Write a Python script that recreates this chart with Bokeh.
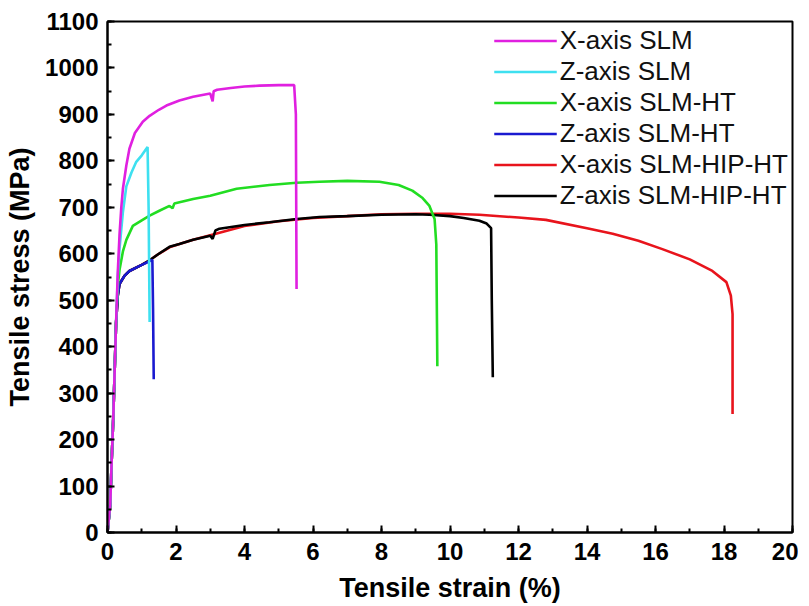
from bokeh.plotting import figure
from bokeh.models import Legend, LegendItem, SingleIntervalTicker
from bokeh.embed import file_html
from bokeh.resources import INLINE

# ---- data (strain %, stress MPa) ----
x_slm_strain = [0, 0.08, 0.12, 0.17, 0.21, 0.25, 0.3, 0.35, 0.4, 0.45, 0.55, 0.64, 0.8,
                1.03, 1.23, 1.5, 1.72, 2.1, 2.5, 3.0, 3.07, 3.1, 3.2, 3.6, 4.0, 4.44,
                5.0, 5.45, 5.5, 5.52]
x_slm_stress = [0, 60, 150, 250, 350, 450, 560, 640, 697, 740, 790, 826, 860,
                884, 897, 910, 919, 930, 938, 945, 928, 950, 953, 957, 960, 962,
                963, 963, 900, 524]

z_slm_strain = [0, 0.08, 0.12, 0.17, 0.21, 0.25, 0.3, 0.35, 0.45, 0.55, 0.7, 0.84, 1.0,
                1.17, 1.2, 1.23]
z_slm_stress = [0, 60, 150, 250, 350, 450, 550, 610, 690, 745, 775, 798, 812,
                830, 700, 453]

x_ht_strain = [0, 0.08, 0.12, 0.17, 0.21, 0.25, 0.3, 0.35, 0.45, 0.55, 0.74, 1.0, 1.23,
               1.5, 1.81, 1.9, 1.95, 2.5, 3.0, 3.77, 4.73, 5.52, 6.19, 7.0, 7.94, 8.5,
               8.9, 9.2, 9.4, 9.55, 9.6, 9.62, 9.63]
x_ht_stress = [0, 60, 150, 250, 350, 450, 530, 565, 605, 630, 660, 672, 682,
               692, 703, 698, 708, 718, 725, 740, 748, 753, 755, 757, 755, 748,
               736, 720, 703, 675, 620, 450, 358]

z_ht_strain = [0, 0.08, 0.12, 0.17, 0.21, 0.25, 0.3, 0.35, 0.5, 0.64, 1.0, 1.23, 1.31,
               1.33, 1.35]
z_ht_stress = [0, 60, 150, 250, 350, 450, 510, 535, 553, 563, 576, 584, 587,
               480, 330]

x_hip_strain = [0, 0.08, 0.12, 0.17, 0.21, 0.25, 0.3, 0.35, 0.5, 0.64, 1.0, 1.23, 1.5,
                1.81, 2.1, 2.5, 3.0, 4.0, 5.0, 6.0, 7.0, 8.0, 9.0, 10.0, 10.86, 12.0,
                12.8, 14.0, 14.75, 15.5, 16.2, 17.0, 17.66, 18.07, 18.2, 18.25, 18.25]
x_hip_stress = [0, 60, 150, 250, 350, 450, 510, 535, 553, 563, 576, 586, 600,
                614, 621, 630, 640, 660, 670, 677, 681, 685, 686, 686, 684, 678,
                673, 655, 643, 628, 610, 588, 563, 539, 510, 470, 255]

z_hip_strain = [0, 0.08, 0.12, 0.17, 0.21, 0.25, 0.3, 0.35, 0.5, 0.64, 1.0, 1.23, 1.5,
                1.81, 2.1, 2.5, 3.0, 3.07, 3.15, 3.27, 4.0, 4.73, 5.52, 6.19, 7.0,
                8.0, 9.0, 9.4, 10.0, 10.4, 10.86, 11.07, 11.2, 11.22, 11.25]
z_hip_stress = [0, 60, 150, 250, 350, 450, 510, 535, 553, 563, 576, 586, 600,
                615, 621, 630, 639, 632, 650, 654, 662, 668, 675, 679, 681,
                684, 685, 684, 681, 677, 671, 665, 655, 500, 334]

labels = ["X-axis SLM", "Z-axis SLM", "X-axis SLM-HT", "Z-axis SLM-HT",
          "X-axis SLM-HIP-HT", "Z-axis SLM-HIP-HT"]

FONT = "Liberation Sans"

p = figure(frame_width=685, frame_height=511, x_range=(0, 20), y_range=(0, 1100),
           output_backend="svg", toolbar_location=None,
           min_border_left=107, min_border_right=6, min_border_top=21,
           min_border_bottom=60)
p.grid.visible = False
p.outline_line_color = "black"
p.outline_line_width = 2
p.background_fill_color = "white"
p.border_fill_color = "white"

# draw order (back to front)
r_red = p.line(x_hip_strain, x_hip_stress, line_color="#e8141c", line_width=2.6)
r_black = p.line(z_hip_strain, z_hip_stress, line_color="#000000", line_width=2.6)
r_blue = p.line(z_ht_strain, z_ht_stress, line_color="#1a1ad0", line_width=2.6)
r_green = p.line(x_ht_strain, x_ht_stress, line_color="#22dd22", line_width=2.6)
r_cyan = p.line(z_slm_strain, z_slm_stress, line_color="#3ee0f0", line_width=2.6)
r_mag = p.line(x_slm_strain, x_slm_stress, line_color="#e020e0", line_width=2.6)

legend = Legend(items=[
    LegendItem(label=labels[0], renderers=[r_mag]),
    LegendItem(label=labels[1], renderers=[r_cyan]),
    LegendItem(label=labels[2], renderers=[r_green]),
    LegendItem(label=labels[3], renderers=[r_blue]),
    LegendItem(label=labels[4], renderers=[r_red]),
    LegendItem(label=labels[5], renderers=[r_black]),
], location="top_right")
legend.glyph_width = 63
legend.glyph_height = 31
legend.label_height = 31
legend.spacing = 0
legend.padding = 4
legend.margin = 0
legend.label_standoff = 3
legend.border_line_alpha = 0
legend.background_fill_alpha = 0
legend.label_text_font = FONT
legend.label_text_font_size = "26px"
legend.label_text_color = "#111111"
p.add_layout(legend)

p.xaxis.ticker = SingleIntervalTicker(interval=2, num_minor_ticks=2)
p.yaxis.ticker = SingleIntervalTicker(interval=100, num_minor_ticks=2)

for ax in (p.xaxis[0], p.yaxis[0]):
    ax.axis_line_width = 2
    ax.axis_line_color = "black"
    ax.major_tick_in = 7
    ax.major_tick_out = 0
    ax.minor_tick_in = 4
    ax.minor_tick_out = 0
    ax.major_tick_line_width = 2
    ax.minor_tick_line_width = 2
    ax.major_tick_line_color = "black"
    ax.minor_tick_line_color = "black"
    ax.major_label_text_font = FONT
    ax.major_label_text_font_style = "bold"
    ax.major_label_text_font_size = "24px"
    ax.major_label_text_color = "black"
    ax.axis_label_text_font = FONT
    ax.axis_label_text_font_style = "bold"
    ax.axis_label_text_font_size = "27px"
    ax.axis_label_text_color = "black"

p.xaxis.axis_label = "Tensile strain (%)"
p.yaxis.axis_label = "Tensile stress (MPa)"
p.xaxis.major_label_standoff = 10
p.yaxis.major_label_standoff = 9
p.xaxis.axis_label_standoff = 10
p.yaxis.axis_label_standoff = 7

open("out.html", "w").write(file_html(p, INLINE))
